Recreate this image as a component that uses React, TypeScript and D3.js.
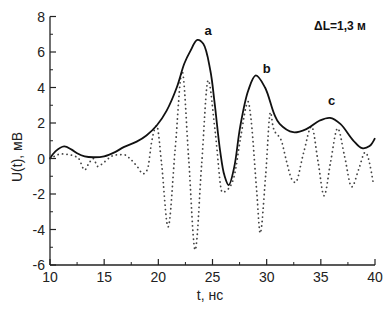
import React from "react";
import * as d3 from "d3";

const solidT = [10, 10.5, 11.3, 12, 12.5, 13.2, 14, 15, 16, 16.8, 18, 18.9, 19.85, 20.77, 21.7, 22.4, 22.95, 23.6, 24.15, 24.8, 25.2, 25.7, 26.1, 26.5, 27.0, 27.55, 28.3, 29.0, 29.85, 30.7, 31.2, 32.45, 33.7, 34.9, 35.85, 36.8, 38.0, 38.8, 39.5, 40];
const solidV = [0, 0.4, 0.68, 0.5, 0.3, 0.12, 0.07, 0.12, 0.36, 0.64, 0.95, 1.3, 1.86, 2.7, 4.0, 5.35, 6.05, 6.68, 6.46, 4.96, 3.1, 0.45, -0.95, -1.5, -0.5, 1.77, 3.83, 4.68, 4.0, 2.5, 1.95, 1.48, 1.67, 2.14, 2.29, 1.95, 1.01, 0.58, 0.7, 1.15];

const dotT = [10, 10.5, 11, 11.7, 12.2, 12.65, 13.2, 13.6, 14.0, 14.4, 14.9, 15.5, 16.0, 16.8, 17.45, 18.05, 18.6, 19.0, 19.4, 19.85, 20.3, 20.9, 21.55, 22.2, 22.8, 23.4, 24.0, 24.6, 25.25, 25.9, 26.3, 27.0, 27.6, 28.3, 28.5, 29.1, 29.4, 29.9, 30.35, 30.6, 31.4, 31.85, 32.3, 32.65, 33.4, 34.15, 34.75, 35.3, 35.9, 36.55, 37.2, 37.85, 38.5, 39.1, 39.85];
const dotV = [0, 0.15, 0.26, 0.22, 0.15, 0, -0.65, -0.26, 0, -0.45, -0.26, 0.05, 0.2, 0.22, -0.05, -0.45, -0.86, -0.6, 1.0, 1.85, -0.3, -3.85, 0.5, 4.9, 0, -5.15, -0.3, 4.4, 1.5, -1.9, -1.8, -1.0, 1.2, 3.2, 2.5, -2.0, -4.2, -1.0, 2.6, 1.76, 0.92, -0.2, -1.15, -1.35, 0.3, 1.8, -0.2, -2.1, -0.2, 1.7, 0.1, -1.6, -0.6, 0.35, -1.42];

const xTicks = [10, 15, 20, 25, 30, 35, 40];
const yTicks = [-6, -4, -2, 0, 2, 4, 6, 8];
const peakLabels = ["a", "b", "c"];
const peakLabelT = [24.6, 30.0, 36.0];
const peakLabelV = [6.96, 4.82, 3.01];

const W = 389, H = 314;
const FONT = "Arial, 'Liberation Sans', sans-serif";

export default function App() {
  const x = d3.scaleLinear().domain([10, 40]).range([50, 375]);
  const y = d3.scaleLinear().domain([-6, 8]).range([265, 16.5]);

  const solid = d3.line<number>()
    .x((_, i) => x(solidT[i]))
    .y((d) => y(d))
    .curve(d3.curveCatmullRom.alpha(0.5))(solidV) || "";
  const dotted = d3.line<number>()
    .x((_, i) => x(dotT[i]))
    .y((d) => y(d))
    .curve(d3.curveMonotoneX)(dotV) || "";

  const xMinor = d3.range(12.5, 40, 5);
  const yMinor = d3.range(-5, 8, 2);
  const axisColor = "#222";

  return (
    <svg width={W} height={H} style={{ position: "absolute", left: 0, top: 0, background: "#fff" }}>
      <rect x={0} y={0} width={W} height={H} fill="#fff" />
      <path d={dotted} fill="none" stroke="#444" strokeWidth={1.8} strokeDasharray="0.1 4.4" strokeLinecap="round" />
      <path d={solid} fill="none" stroke="#111" strokeWidth={1.8} />
      <line x1={x(10)} x2={x(10)} y1={y(8)} y2={y(-6)} stroke={axisColor} strokeWidth={1.3} />
      <line x1={x(10)} x2={x(40)} y1={y(-6)} y2={y(-6)} stroke={axisColor} strokeWidth={1.3} />
      {xTicks.map((t) => (
        <g key={"xt" + t}>
          <line x1={x(t)} x2={x(t)} y1={y(-6)} y2={y(-6) - 6} stroke={axisColor} strokeWidth={1.2} />
          <text x={x(t)} y={282} textAnchor="middle" fontFamily={FONT} fontSize={14} fill="#222">{t}</text>
        </g>
      ))}
      {xMinor.map((t) => (
        <line key={"xm" + t} x1={x(t)} x2={x(t)} y1={y(-6)} y2={y(-6) - 3} stroke={axisColor} strokeWidth={1} />
      ))}
      {yTicks.map((v) => (
        <g key={"yt" + v}>
          <line x1={x(10)} x2={x(10) + 6} y1={y(v)} y2={y(v)} stroke={axisColor} strokeWidth={1.2} />
          <text x={45} y={y(v) + 5} textAnchor="end" fontFamily={FONT} fontSize={14} fill="#222">{v}</text>
        </g>
      ))}
      {yMinor.map((v) => (
        <line key={"ym" + v} x1={x(10)} x2={x(10) + 3} y1={y(v)} y2={y(v)} stroke={axisColor} strokeWidth={1} />
      ))}
      <text x={210} y={300} textAnchor="middle" fontFamily={FONT} fontSize={14} fill="#222">t, нс</text>
      <text transform={`translate(22,${157}) rotate(-90)`} textAnchor="middle" fontFamily={FONT} fontSize={14} fill="#222">U(t), мВ</text>
      {peakLabels.map((l, i) => (
        <text key={l} x={x(peakLabelT[i])} y={y(peakLabelV[i])} textAnchor="middle" fontFamily={FONT} fontSize={13} fontWeight="bold" fill="#111">{l}</text>
      ))}
      <text x={340} y={30} textAnchor="middle" fontFamily={FONT} fontSize={12} fontWeight="bold" fill="#111">ΔL=1,3 м</text>
    </svg>
  );
}
